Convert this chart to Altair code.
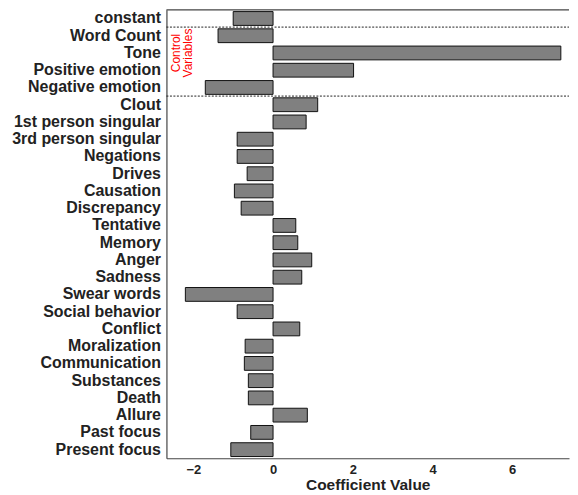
import altair as alt
import pandas as pd

categories = [
    "constant", "Word Count", "Tone", "Positive emotion", "Negative emotion",
    "Clout", "1st person singular", "3rd person singular", "Negations", "Drives",
    "Causation", "Discrepancy", "Tentative", "Memory", "Anger", "Sadness",
    "Swear words", "Social behavior", "Conflict", "Moralization", "Communication",
    "Substances", "Death", "Allure", "Past focus", "Present focus",
]
values = [
    -1.0, -1.38, 7.22, 2.02, -1.7,
    1.12, 0.83, -0.9, -0.9, -0.65,
    -0.97, -0.8, 0.57, 0.62, 0.97, 0.72,
    -2.2, -0.9, 0.67, -0.7, -0.72,
    -0.62, -0.62, 0.86, -0.56, -1.06,
]
separators = ["constant", "Negative emotion"]
annotation = ["Control\nVariables"]

df = pd.DataFrame({"cat": categories, "val": values})
sep_df = pd.DataFrame({"cat": separators})
ann_df = pd.DataFrame({"cat": ["Tone"], "val": [-2.44], "txt": annotation})

FONT = "Liberation Sans"
x_scale = alt.Scale(domain=[-2.675, 7.425], nice=False, zero=False)
y_scale = alt.Scale(paddingInner=0, paddingOuter=0)

bars = alt.Chart(df).mark_bar(
    height={"band": 0.8}, color="#808080", stroke="#111", strokeWidth=1
).encode(
    x=alt.X("val:Q", scale=x_scale, title="Coefficient Value",
            axis=alt.Axis(values=[-2, 0, 2, 4, 6], grid=False, ticks=False,
                          labelPadding=5, labelFontSize=13, labelFontWeight="bold",
                          labelColor="#222", titleFontSize=15.5, titleFontWeight="bold",
                          titleColor="#222", titlePadding=1, domainColor="#444",
                          domainWidth=1.2, labelFont=FONT, titleFont=FONT)),
    x2=alt.datum(0),
    y=alt.Y("cat:N", sort=categories, scale=y_scale, title=None,
            axis=alt.Axis(ticks=False, labelPadding=6, labelFontSize=16,
                          labelFontWeight="bold", labelColor="#222", labelFont=FONT,
                          domainColor="#444", domainWidth=1.2, labelLimit=300)),
)

top_line = alt.Chart(sep_df.head(1)).mark_rule(color="#444", strokeWidth=1.2).encode(
    x=alt.value(0),
    x2=alt.value("width"),
    y=alt.value(0),
)

rules = alt.Chart(sep_df).mark_rule(
    color="#222", strokeDash=[2, 1.5], strokeWidth=1
).encode(
    y=alt.Y("cat:N", sort=categories, bandPosition=1),
    x=alt.value(0),
    x2=alt.value("width"),
)

text = alt.Chart(ann_df).mark_text(
    angle=270, color="red", font=FONT, fontSize=12, lineHeight=12.5,
    align="center", baseline="middle", lineBreak="\n"
).encode(
    x=alt.X("val:Q"),
    y=alt.Y("cat:N", sort=categories),
    text="txt:N",
)

chart = alt.layer(bars, top_line, rules, text).properties(
    width=404, height=450,
    padding={"left": 3, "top": 0, "right": 0, "bottom": 0},
).configure_view(stroke=None)

chart.save("out.html", embed_options={"renderer": "svg", "actions": False})
